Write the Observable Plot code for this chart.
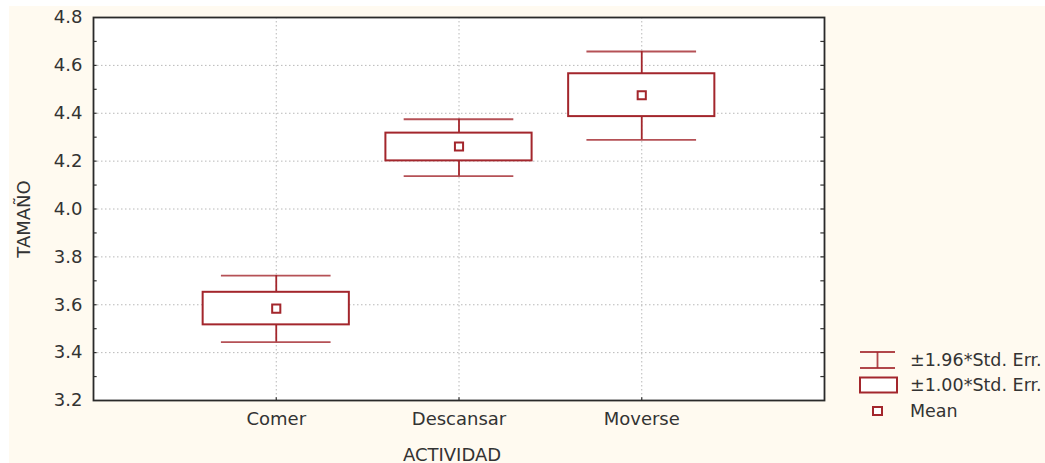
<!DOCTYPE html>
<html>
<head>
<meta charset="utf-8">
<script src="https://cdn.jsdelivr.net/npm/d3@7"></script>
<script src="https://cdn.jsdelivr.net/npm/@observablehq/plot@0.6"></script>
<style>
  html, body { margin: 0; padding: 0; background: #ffffff; }
  #wrap { position: relative; width: 1045px; height: 463px; overflow: hidden; background: #ffffff; }
  #bg { position: absolute; left: 9px; top: 6px; right: 0; bottom: 0; background: #fffaf0; }
  #chart { position: absolute; left: 0; top: 0; }
  .lbl { position: absolute; font-family: "DejaVu Sans", sans-serif; font-size: 18px; color: #333; white-space: nowrap; }
  #ylab { left: 23px; top: 219px; transform: translate(-50%, -50%) rotate(-90deg); }
  #xlab { left: 452px; top: 454px; transform: translate(-50%, -50%); }
  #legend { position: absolute; left: 858px; top: 345px; }
</style>
</head>
<body>
<div id="wrap">
  <div id="bg"></div>
  <div id="chart"></div>
  <div class="lbl" id="ylab">TAMAÑO</div>
  <div class="lbl" id="xlab">ACTIVIDAD</div>
  <div id="legend"></div>
</div>
<script>
// ---- data ----
const categories = ["Comer", "Descansar", "Moverse"];
const means      = [3.584, 4.261, 4.475];
const boxLow     = [3.516, 4.201, 4.386];   // mean - 1.00*SE
const boxHigh    = [3.652, 4.317, 4.565];   // mean + 1.00*SE
const whiskLow   = [3.444, 4.137, 4.289];   // mean - 1.96*SE
const whiskHigh  = [3.722, 4.375, 4.658];   // mean + 1.96*SE
const yTickLabels = [3.2, 3.4, 3.6, 3.8, 4.0, 4.2, 4.4, 4.6, 4.8];
const yGrid       = [3.4, 3.6, 3.8, 4.0, 4.2, 4.4, 4.6];
const yTicksSmall = [3.3, 3.4, 3.5, 3.6, 3.7, 3.8, 3.9, 4.0, 4.1, 4.2, 4.3, 4.4, 4.5, 4.6, 4.7];
const legendLabels = ["±1.96*Std. Err.", "±1.00*Std. Err.", "Mean"];

const red = "#a3262c";
const rows = categories.map((c, i) => ({
  cat: c, pos: i + 1, mean: means[i],
  bl: boxLow[i], bh: boxHigh[i], wl: whiskLow[i], wh: whiskHigh[i]
}));

const chart = Plot.plot({
  width: 1045,
  height: 463,
  marginLeft: 93,
  marginRight: 221,
  marginTop: 17,
  marginBottom: 63,
  style: { background: "transparent", fontFamily: "DejaVu Sans, sans-serif", fontSize: "18px", color: "#333" },
  x: { domain: [0, 4], axis: null, label: null },
  y: { domain: [3.2, 4.8], axis: null, label: null },
  marks: [
    Plot.frame({ fill: "white", stroke: null }),
    Plot.ruleY(yGrid, { stroke: "#b8b8b8", strokeDasharray: "1.5,2.5", strokeWidth: 1 }),
    Plot.ruleX(rows, { x: "pos", stroke: "#b8b8b8", strokeDasharray: "1.5,2.5", strokeWidth: 1 }),
    // small inner ticks on left and right axes
    Plot.ruleY(yTicksSmall, { x1: 0, x2: 0.02, stroke: "#333", strokeWidth: 1.2 }),
    Plot.ruleY(yTicksSmall, { x1: 3.98, x2: 4, stroke: "#333", strokeWidth: 1.2 }),
    // small ticks at categories on bottom
    Plot.ruleX(rows, { x: "pos", y1: 3.2, y2: 3.212, stroke: "#333", strokeWidth: 1.2 }),
    // whisker stems
    Plot.ruleX(rows, { x: "pos", y1: "wl", y2: "bl", stroke: red, strokeWidth: 1.8 }),
    Plot.ruleX(rows, { x: "pos", y1: "bh", y2: "wh", stroke: red, strokeWidth: 1.8 }),
    // caps
    Plot.ruleY(rows, { y: "wl", x1: d => d.pos - 0.3, x2: d => d.pos + 0.3, stroke: red, strokeWidth: 1.8, strokeOpacity: 0.8 }),
    Plot.ruleY(rows, { y: "wh", x1: d => d.pos - 0.3, x2: d => d.pos + 0.3, stroke: red, strokeWidth: 1.8, strokeOpacity: 0.8 }),
    // boxes
    Plot.rect(rows, { x1: d => d.pos - 0.4, x2: d => d.pos + 0.4, y1: "bl", y2: "bh", fill: "white", stroke: red, strokeWidth: 2 }),
    // means
    Plot.dot(rows, { x: "pos", y: "mean", symbol: "square", r: 4.6, fill: "white", stroke: red, strokeWidth: 2 }),
    Plot.frame({ stroke: "#2a2a2a", strokeWidth: 1.8 }),
    Plot.axisY(yTickLabels, { tickSize: 0, tickPadding: 11, tickFormat: d3.format(".1f"), fontSize: 18, fill: "#333", label: null }),
    Plot.axisX([1, 2, 3], { tickSize: 0, tickPadding: 12, tickFormat: d => categories[d - 1], fontSize: 18, fill: "#333", label: null })
  ]
});
document.getElementById("chart").appendChild(chart);

// ---- legend ----
const lg = d3.select("#legend").append("svg").attr("width", 187).attr("height", 80)
  .style("font-family", "DejaVu Sans, sans-serif").style("font-size", "17.5px");
const rowY = [15, 40, 66];
// whisker symbol
const g0 = lg.append("g").attr("stroke", red).attr("stroke-width", 1.8).attr("stroke-opacity", 0.85);
g0.append("line").attr("x1", 2).attr("x2", 37).attr("y1", rowY[0] - 8).attr("y2", rowY[0] - 8);
g0.append("line").attr("x1", 2).attr("x2", 37).attr("y1", rowY[0] + 8).attr("y2", rowY[0] + 8);
g0.append("line").attr("x1", 19.5).attr("x2", 19.5).attr("y1", rowY[0] - 8).attr("y2", rowY[0] + 8);
// box symbol
lg.append("rect").attr("x", 2).attr("y", rowY[1] - 7.5).attr("width", 37).attr("height", 15)
  .attr("fill", "white").attr("stroke", red).attr("stroke-width", 2);
// mean symbol
lg.append("rect").attr("x", 15).attr("y", rowY[2] - 4).attr("width", 9).attr("height", 8)
  .attr("fill", "white").attr("stroke", red).attr("stroke-width", 2);
lg.selectAll("text.l").data(legendLabels).join("text").attr("class", "l")
  .attr("x", 52).attr("y", (d, i) => rowY[i]).attr("dy", "0.36em").attr("fill", "#333").text(d => d);
</script>
</body>
</html>
